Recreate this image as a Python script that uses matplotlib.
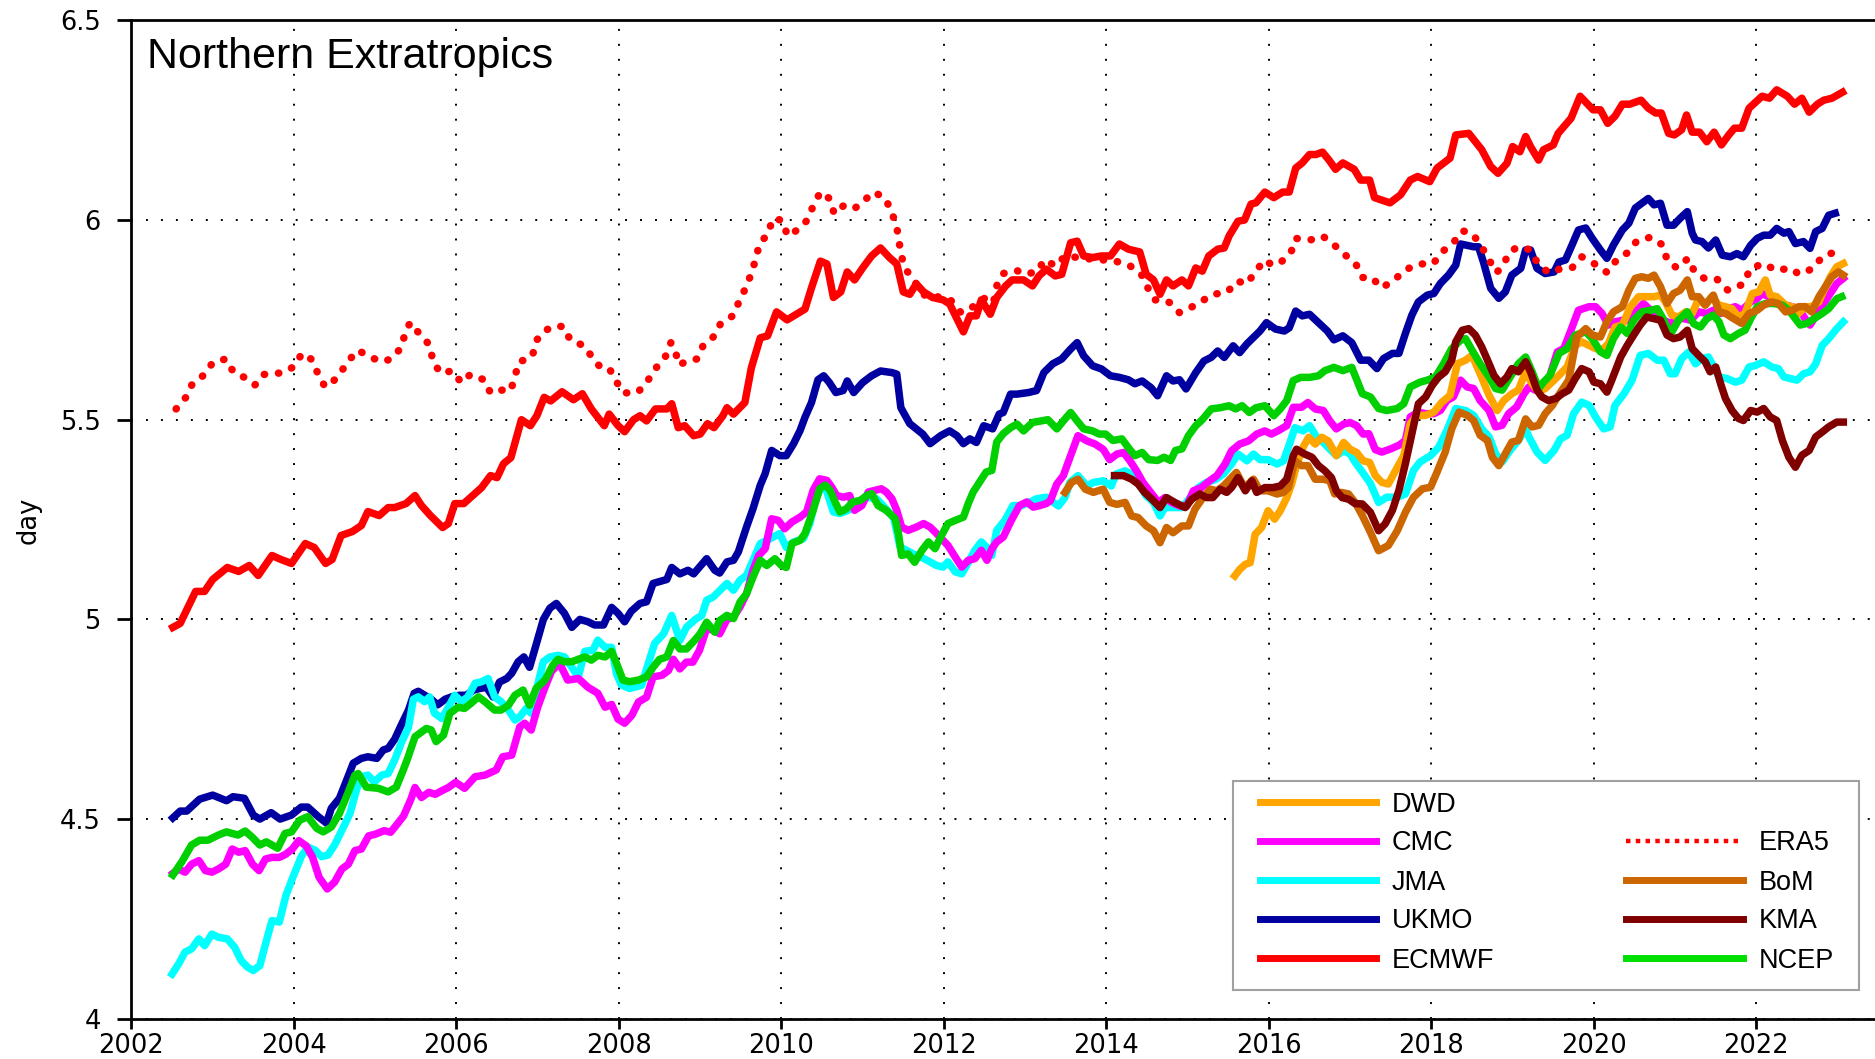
import matplotlib
matplotlib.use("Agg")
import matplotlib.pyplot as plt
from matplotlib.lines import Line2D
from matplotlib.patches import Rectangle

# values (year, days)
ecmwf_t = [2002.51, 2002.6, 2002.79, 2002.9, 2003.0, 2003.18, 2003.32, 2003.45, 2003.56, 2003.73, 2003.84, 2003.97,
           2004.14, 2004.25, 2004.39, 2004.47, 2004.58, 2004.72, 2004.83, 2004.91, 2005.05, 2005.16, 2005.24, 2005.38,
           2005.49, 2005.57, 2005.68, 2005.83, 2005.9, 2005.98, 2006.09, 2006.2, 2006.31, 2006.42, 2006.5, 2006.58,
           2006.67, 2006.8, 2006.91, 2006.99, 2007.08, 2007.16, 2007.3, 2007.44, 2007.55, 2007.66, 2007.82, 2007.88,
           2007.99, 2008.07, 2008.18, 2008.26, 2008.34, 2008.45, 2008.59, 2008.65, 2008.73, 2008.81, 2008.92, 2009.0,
           2009.09, 2009.17, 2009.28, 2009.33, 2009.41, 2009.55, 2009.63, 2009.74, 2009.83, 2009.94, 2010.07, 2010.29,
           2010.37, 2010.48, 2010.56, 2010.64, 2010.73, 2010.81, 2010.9, 2011.0, 2011.11, 2011.22, 2011.33, 2011.42,
           2011.5, 2011.58, 2011.66, 2011.75, 2011.86, 2011.99, 2012.07, 2012.24, 2012.32, 2012.4, 2012.46, 2012.57,
           2012.65, 2012.76, 2012.84, 2012.98, 2013.09, 2013.17, 2013.26, 2013.37, 2013.45, 2013.56, 2013.64, 2013.72,
           2013.83, 2013.94, 2014.05, 2014.16, 2014.27, 2014.41, 2014.49, 2014.58, 2014.66, 2014.74, 2014.82, 2014.93,
           2015.01, 2015.1, 2015.18, 2015.26, 2015.37, 2015.45, 2015.51, 2015.62, 2015.7, 2015.78, 2015.84, 2015.95,
           2016.06, 2016.17, 2016.25, 2016.33, 2016.41, 2016.5, 2016.58, 2016.66, 2016.74, 2016.82, 2016.91, 2017.05,
           2017.13, 2017.24, 2017.3, 2017.49, 2017.62, 2017.74, 2017.83, 2017.98, 2018.07, 2018.23, 2018.3, 2018.46,
           2018.62, 2018.73, 2018.82, 2018.93, 2019.0, 2019.09, 2019.16, 2019.22, 2019.32, 2019.38, 2019.5, 2019.56,
           2019.72, 2019.83, 2019.99, 2020.08, 2020.17, 2020.26, 2020.35, 2020.44, 2020.58, 2020.67, 2020.76, 2020.83,
           2020.92, 2020.99, 2021.08, 2021.14, 2021.21, 2021.3, 2021.39, 2021.48, 2021.57, 2021.66, 2021.73, 2021.82,
           2021.91, 2021.98, 2022.07, 2022.16, 2022.25, 2022.38, 2022.47, 2022.56, 2022.65, 2022.75, 2022.83, 2022.93,
           2023.06]
ecmwf_v = [4.98, 4.99, 5.07, 5.07, 5.10, 5.13, 5.12, 5.135, 5.11, 5.16, 5.15, 5.14,
           5.19, 5.18, 5.14, 5.15, 5.21, 5.22, 5.235, 5.27, 5.26, 5.28, 5.28, 5.29,
           5.31, 5.285, 5.26, 5.23, 5.24, 5.29, 5.29, 5.31, 5.33, 5.36, 5.355, 5.39,
           5.405, 5.50, 5.485, 5.51, 5.556, 5.547, 5.57, 5.55, 5.565, 5.527, 5.485, 5.514,
           5.485, 5.47, 5.50, 5.51, 5.497, 5.527, 5.527, 5.54, 5.48, 5.485, 5.46, 5.464,
           5.49, 5.48, 5.51, 5.53, 5.514, 5.543, 5.63, 5.705, 5.71, 5.77, 5.75, 5.777,
           5.83, 5.897, 5.89, 5.806, 5.82, 5.87, 5.85, 5.88, 5.91, 5.93, 5.906, 5.89,
           5.82, 5.814, 5.84, 5.82, 5.806, 5.80, 5.79, 5.72, 5.76, 5.76, 5.80, 5.764,
           5.806, 5.835, 5.85, 5.85, 5.835, 5.86, 5.877, 5.86, 5.864, 5.943, 5.947, 5.91,
           5.906, 5.91, 5.91, 5.94, 5.927, 5.92, 5.864, 5.85, 5.814, 5.85, 5.835, 5.85,
           5.835, 5.88, 5.872, 5.91, 5.927, 5.93, 5.96, 5.997, 6.0, 6.04, 6.043, 6.07,
           6.056, 6.07, 6.07, 6.13, 6.143, 6.164, 6.164, 6.17, 6.15, 6.127, 6.143, 6.127,
           6.1, 6.1, 6.056, 6.043, 6.063, 6.10, 6.109, 6.096, 6.13, 6.155, 6.213, 6.217,
           6.176, 6.134, 6.117, 6.142, 6.184, 6.171, 6.209, 6.184, 6.15, 6.176, 6.188, 6.217,
           6.255, 6.31, 6.276, 6.276, 6.242, 6.26, 6.29, 6.29, 6.30, 6.28, 6.268, 6.268,
           6.217, 6.213, 6.226, 6.263, 6.22, 6.22, 6.196, 6.22, 6.188, 6.213, 6.23, 6.23,
           6.28, 6.293, 6.31, 6.305, 6.326, 6.31, 6.29, 6.305, 6.27, 6.29, 6.30, 6.305,
           6.32]

era5_t = [2002.55, 2002.67, 2002.75, 2002.9, 2003.0, 2003.16, 2003.26, 2003.39, 2003.52, 2003.62, 2003.74, 2003.86,
          2004.0, 2004.1, 2004.21, 2004.29, 2004.38, 2004.46, 2004.58, 2004.69, 2004.79, 2004.94, 2005.1, 2005.2,
          2005.32, 2005.37, 2005.43, 2005.55, 2005.67, 2005.71, 2005.8, 2005.95, 2006.06, 2006.17, 2006.34, 2006.42,
          2006.58, 2006.67, 2006.72, 2006.78, 2006.88, 2006.94, 2006.99, 2007.1, 2007.21, 2007.32, 2007.4, 2007.57,
          2007.68, 2007.79, 2007.89, 2007.96, 2008.06, 2008.23, 2008.35, 2008.45, 2008.57, 2008.64, 2008.69, 2008.74,
          2008.85, 2008.96, 2009.04, 2009.16, 2009.25, 2009.4, 2009.48, 2009.56, 2009.63, 2009.68, 2009.73, 2009.84,
          2009.89, 2010.0, 2010.08, 2010.21, 2010.32, 2010.39, 2010.48, 2010.59, 2010.65, 2010.76, 2010.89, 2011.0,
          2011.14, 2011.28, 2011.36, 2011.42, 2011.45, 2011.48, 2011.54, 2011.65, 2011.77, 2011.9, 2012.01, 2012.08,
          2012.21, 2012.43, 2012.51, 2012.59, 2012.65, 2012.73, 2012.89, 2013.01, 2013.16, 2013.23, 2013.38, 2013.49,
          2013.7, 2013.9, 2014.06, 2014.28, 2014.43, 2014.51, 2014.6, 2014.71, 2014.78, 2014.9, 2015.03, 2015.15,
          2015.3, 2015.48, 2015.61, 2015.73, 2015.83, 2015.95, 2016.04, 2016.14, 2016.27, 2016.33, 2016.51, 2016.66,
          2016.79, 2016.93, 2017.07, 2017.15, 2017.26, 2017.39, 2017.54, 2017.69, 2017.84, 2018.02, 2018.13, 2018.27,
          2018.38, 2018.5, 2018.61, 2018.71, 2018.8, 2018.88, 2018.96, 2019.07, 2019.21, 2019.3, 2019.44, 2019.55,
          2019.73, 2019.85, 2020.01, 2020.16, 2020.28, 2020.42, 2020.53, 2020.7, 2020.85, 2020.9, 2021.02, 2021.16,
          2021.24, 2021.38, 2021.52, 2021.65, 2021.77, 2021.85, 2021.92, 2022.09, 2022.25, 2022.41, 2022.53, 2022.7,
          2022.81, 2022.94]
era5_v = [5.527, 5.556, 5.59, 5.613, 5.643, 5.652, 5.618, 5.606, 5.587, 5.613, 5.616, 5.617,
          5.633, 5.666, 5.652, 5.618, 5.583, 5.59, 5.62, 5.652, 5.674, 5.656, 5.645, 5.653,
          5.68, 5.718, 5.743, 5.714, 5.687, 5.648, 5.617, 5.622, 5.593, 5.613, 5.60, 5.567,
          5.575, 5.573, 5.61, 5.647, 5.65, 5.664, 5.70, 5.724, 5.735, 5.733, 5.70, 5.685,
          5.654, 5.627, 5.625, 5.598, 5.567, 5.568, 5.596, 5.628, 5.657, 5.693, 5.674, 5.637,
          5.648, 5.652, 5.687, 5.707, 5.74, 5.76, 5.796, 5.83, 5.866, 5.90, 5.94, 5.967,
          6.003, 6.0, 5.96, 5.977, 6.0, 6.035, 6.07, 6.054, 6.016, 6.035, 6.027, 6.046,
          6.07, 6.054, 6.018, 5.982, 5.943, 5.907, 5.874, 5.843, 5.81, 5.81, 5.80, 5.80,
          5.768, 5.79, 5.806, 5.772, 5.835, 5.866, 5.874, 5.864, 5.872, 5.90, 5.885, 5.91,
          5.905, 5.90, 5.90, 5.887, 5.864, 5.83, 5.80, 5.80, 5.793, 5.768, 5.78, 5.793,
          5.814, 5.818, 5.847, 5.84, 5.87, 5.90, 5.887, 5.893, 5.918, 5.954, 5.95, 5.96,
          5.94, 5.914, 5.89, 5.856, 5.857, 5.83, 5.85, 5.876, 5.89, 5.89, 5.92, 5.943,
          5.973, 5.967, 5.936, 5.90, 5.868, 5.885, 5.92, 5.933, 5.926, 5.895, 5.868, 5.876,
          5.88, 5.908, 5.89, 5.869, 5.90, 5.919, 5.948, 5.957, 5.937, 5.90, 5.88, 5.904,
          5.87, 5.851, 5.851, 5.824, 5.834, 5.84, 5.878, 5.891, 5.873, 5.88, 5.864, 5.879,
          5.908, 5.918]

ukmo_t = [2002.51, 2002.6, 2002.68, 2002.84, 2003.0, 2003.17, 2003.25, 2003.39, 2003.5, 2003.58, 2003.72, 2003.83,
          2003.97, 2004.09, 2004.17, 2004.3, 2004.4, 2004.46, 2004.56, 2004.65, 2004.73, 2004.83, 2004.91, 2005.02,
          2005.1, 2005.16, 2005.24, 2005.32, 2005.41, 2005.48, 2005.53, 2005.61, 2005.69, 2005.77, 2005.86, 2005.94,
          2006.04, 2006.12, 2006.21, 2006.29, 2006.37, 2006.45, 2006.53, 2006.62, 2006.68, 2006.76, 2006.83, 2006.9,
          2006.98, 2007.07, 2007.15, 2007.23, 2007.33, 2007.42, 2007.52, 2007.62, 2007.7, 2007.81, 2007.91, 2007.99,
          2008.07, 2008.15, 2008.26, 2008.34, 2008.42, 2008.59, 2008.65, 2008.75, 2008.85, 2008.92, 2009.08, 2009.18,
          2009.24, 2009.33, 2009.41, 2009.47, 2009.57, 2009.65, 2009.74, 2009.8, 2009.88, 2009.98, 2010.06, 2010.15,
          2010.23, 2010.29, 2010.37, 2010.45, 2010.52, 2010.59, 2010.67, 2010.76, 2010.81, 2010.89, 2011.0, 2011.11,
          2011.22, 2011.36, 2011.42, 2011.47, 2011.58, 2011.69, 2011.74, 2011.83, 2011.96, 2012.07, 2012.16, 2012.24,
          2012.32, 2012.4, 2012.49, 2012.6, 2012.68, 2012.73, 2012.82, 2012.9, 2013.04, 2013.14, 2013.23, 2013.34,
          2013.45, 2013.56, 2013.64, 2013.72, 2013.83, 2013.94, 2014.05, 2014.16, 2014.27, 2014.35, 2014.44, 2014.55,
          2014.63, 2014.74, 2014.82, 2014.9, 2014.98, 2015.1, 2015.2, 2015.29, 2015.37, 2015.45, 2015.56, 2015.64,
          2015.73, 2015.81, 2015.89, 2015.97, 2016.08, 2016.19, 2016.25, 2016.33, 2016.41, 2016.5, 2016.61, 2016.72,
          2016.8, 2016.91, 2017.02, 2017.13, 2017.23, 2017.33, 2017.41, 2017.52, 2017.6, 2017.68, 2017.76, 2017.84,
          2017.95, 2018.03, 2018.11, 2018.21, 2018.3, 2018.36, 2018.52, 2018.58, 2018.64, 2018.73, 2018.83, 2018.91,
          2018.99, 2019.1, 2019.16, 2019.22, 2019.3, 2019.4, 2019.51, 2019.57, 2019.65, 2019.73, 2019.81, 2019.9,
          2019.98, 2020.08, 2020.16, 2020.24, 2020.35, 2020.43, 2020.51, 2020.59, 2020.67, 2020.74, 2020.82, 2020.9,
          2020.98, 2021.06, 2021.15, 2021.21, 2021.25, 2021.33, 2021.41, 2021.5, 2021.58, 2021.68, 2021.76, 2021.84,
          2021.93, 2022.01, 2022.09, 2022.17, 2022.25, 2022.34, 2022.4, 2022.48, 2022.58, 2022.66, 2022.73, 2022.81,
          2022.89, 2022.97]
ukmo_v = [4.503, 4.52, 4.52, 4.55, 4.56, 4.546, 4.556, 4.552, 4.51, 4.50, 4.516, 4.50,
          4.51, 4.53, 4.53, 4.506, 4.49, 4.527, 4.552, 4.598, 4.64, 4.652, 4.656, 4.652,
          4.673, 4.677, 4.70, 4.735, 4.773, 4.815, 4.82, 4.81, 4.80, 4.786, 4.80, 4.806,
          4.81, 4.81, 4.823, 4.827, 4.83, 4.806, 4.843, 4.852, 4.865, 4.894, 4.906, 4.88,
          4.936, 5.0, 5.028, 5.04, 5.015, 4.98, 5.0, 4.994, 4.986, 4.986, 5.03, 5.015,
          4.994, 5.02, 5.04, 5.044, 5.09, 5.10, 5.13, 5.114, 5.123, 5.114, 5.152, 5.123,
          5.116, 5.144, 5.148, 5.169, 5.231, 5.277, 5.336, 5.365, 5.423, 5.41, 5.41, 5.44,
          5.473, 5.506, 5.543, 5.60, 5.61, 5.593, 5.568, 5.573, 5.597, 5.568, 5.593, 5.61,
          5.622, 5.618, 5.614, 5.53, 5.49, 5.472, 5.464, 5.44, 5.46, 5.472, 5.46, 5.44,
          5.452, 5.443, 5.485, 5.477, 5.514, 5.518, 5.564, 5.564, 5.568, 5.573, 5.618, 5.64,
          5.652, 5.677, 5.693, 5.66, 5.635, 5.627, 5.61, 5.606, 5.60, 5.59, 5.597, 5.58,
          5.56, 5.61, 5.597, 5.60, 5.577, 5.618, 5.647, 5.656, 5.672, 5.656, 5.685, 5.668,
          5.69, 5.706, 5.722, 5.743, 5.727, 5.722, 5.73, 5.772, 5.76, 5.764, 5.743, 5.722,
          5.70, 5.71, 5.693, 5.649, 5.649, 5.628, 5.653, 5.666, 5.666, 5.716, 5.762, 5.795,
          5.812, 5.816, 5.841, 5.862, 5.887, 5.94, 5.933, 5.933, 5.895, 5.829, 5.804, 5.82,
          5.862, 5.879, 5.925, 5.925, 5.879, 5.866, 5.87, 5.895, 5.90, 5.937, 5.975, 5.98,
          5.954, 5.925, 5.904, 5.937, 5.975, 5.992, 6.03, 6.042, 6.054, 6.038, 6.042, 5.987,
          5.987, 6.004, 6.021, 5.967, 5.95, 5.946, 5.93, 5.95, 5.912, 5.908, 5.916, 5.908,
          5.937, 5.954, 5.962, 5.962, 5.979, 5.967, 5.971, 5.941, 5.946, 5.929, 5.971, 5.979,
          6.012, 6.017]

ncep_t = [2002.51, 2002.62, 2002.74, 2002.84, 2002.94, 2003.07, 2003.17, 2003.31, 2003.4, 2003.49, 2003.58, 2003.66,
          2003.8, 2003.89, 2003.97, 2004.07, 2004.17, 2004.28, 2004.36, 2004.46, 2004.56, 2004.67, 2004.75, 2004.79,
          2004.89, 2005.04, 2005.16, 2005.26, 2005.34, 2005.4, 2005.49, 2005.63, 2005.69, 2005.75, 2005.84, 2005.92,
          2006.02, 2006.1, 2006.18, 2006.27, 2006.35, 2006.47, 2006.55, 2006.64, 2006.72, 2006.82, 2006.9, 2006.98,
          2007.09, 2007.19, 2007.25, 2007.33, 2007.42, 2007.5, 2007.58, 2007.66, 2007.74, 2007.83, 2007.91, 2007.97,
          2008.05, 2008.13, 2008.24, 2008.34, 2008.42, 2008.5, 2008.59, 2008.67, 2008.75, 2008.83, 2008.93, 2009.0,
          2009.08, 2009.18, 2009.24, 2009.33, 2009.41, 2009.49, 2009.57, 2009.65, 2009.74, 2009.82, 2009.92, 2010.0,
          2010.06, 2010.13, 2010.23, 2010.29, 2010.39, 2010.47, 2010.54, 2010.6, 2010.66, 2010.72, 2010.8, 2010.88,
          2010.97, 2011.05, 2011.11, 2011.19, 2011.29, 2011.4, 2011.44, 2011.48, 2011.56, 2011.64, 2011.73, 2011.81,
          2011.89, 2011.97, 2012.05, 2012.14, 2012.24, 2012.3, 2012.36, 2012.44, 2012.52, 2012.59, 2012.65, 2012.73,
          2012.82, 2012.9, 2012.98, 2013.09, 2013.2, 2013.28, 2013.39, 2013.47, 2013.56, 2013.64, 2013.72, 2013.83,
          2013.91, 2013.99, 2014.08, 2014.19, 2014.27, 2014.35, 2014.44, 2014.52, 2014.63, 2014.71, 2014.79, 2014.85,
          2014.93, 2015.01, 2015.1, 2015.18, 2015.29, 2015.4, 2015.51, 2015.59, 2015.67, 2015.76, 2015.84, 2015.95,
          2016.06, 2016.14, 2016.22, 2016.3, 2016.39, 2016.5, 2016.61, 2016.69, 2016.8, 2016.91, 2017.02, 2017.15,
          2017.25, 2017.35, 2017.45, 2017.58, 2017.66, 2017.74, 2017.86, 2017.95, 2018.05, 2018.15, 2018.25, 2018.36,
          2018.42, 2018.5, 2018.6, 2018.71, 2018.79, 2018.87, 2018.97, 2019.07, 2019.16, 2019.24, 2019.32, 2019.38,
          2019.46, 2019.57, 2019.67, 2019.77, 2019.9, 2019.98, 2020.08, 2020.16, 2020.24, 2020.33, 2020.41, 2020.49,
          2020.59, 2020.7, 2020.78, 2020.84, 2020.9, 2020.96, 2021.04, 2021.15, 2021.23, 2021.31, 2021.39, 2021.47,
          2021.54, 2021.6, 2021.68, 2021.78, 2021.86, 2021.93, 2022.01, 2022.11, 2022.21, 2022.32, 2022.4, 2022.48,
          2022.54, 2022.62, 2022.71, 2022.81, 2022.89, 2022.99, 2023.05]
ncep_v = [4.36, 4.393, 4.435, 4.447, 4.447, 4.46, 4.468, 4.46, 4.47, 4.454, 4.435, 4.443,
          4.427, 4.464, 4.468, 4.497, 4.506, 4.477, 4.468, 4.48, 4.514, 4.568, 4.61, 4.614,
          4.58, 4.577, 4.568, 4.58, 4.62, 4.652, 4.706, 4.727, 4.723, 4.694, 4.71, 4.765,
          4.78, 4.777, 4.79, 4.806, 4.794, 4.773, 4.773, 4.785, 4.81, 4.823, 4.785, 4.827,
          4.848, 4.886, 4.90, 4.894, 4.894, 4.90, 4.906, 4.898, 4.91, 4.906, 4.92, 4.89,
          4.848, 4.844, 4.848, 4.856, 4.88, 4.90, 4.906, 4.947, 4.926, 4.926, 4.947, 4.964,
          4.993, 4.968, 4.997, 5.01, 5.002, 5.043, 5.064, 5.106, 5.148, 5.135, 5.152, 5.135,
          5.13, 5.19, 5.198, 5.215, 5.273, 5.327, 5.336, 5.323, 5.294, 5.269, 5.277, 5.294,
          5.298, 5.31, 5.315, 5.285, 5.273, 5.252, 5.215, 5.16, 5.164, 5.143, 5.173, 5.194,
          5.177, 5.21, 5.24, 5.248, 5.256, 5.29, 5.319, 5.344, 5.369, 5.373, 5.444, 5.465,
          5.48, 5.489, 5.472, 5.493, 5.497, 5.50, 5.477, 5.497, 5.518, 5.497, 5.477, 5.472,
          5.464, 5.464, 5.448, 5.452, 5.43, 5.41, 5.418, 5.40, 5.398, 5.406, 5.398, 5.423,
          5.427, 5.46, 5.485, 5.50, 5.527, 5.53, 5.535, 5.527, 5.535, 5.518, 5.53, 5.535,
          5.51, 5.527, 5.548, 5.598, 5.606, 5.606, 5.61, 5.623, 5.631, 5.623, 5.631, 5.565,
          5.557, 5.528, 5.523, 5.528, 5.54, 5.582, 5.594, 5.599, 5.607, 5.64, 5.678, 5.699,
          5.703, 5.674, 5.64, 5.607, 5.578, 5.574, 5.607, 5.64, 5.657, 5.62, 5.578, 5.594,
          5.611, 5.666, 5.678, 5.712, 5.72, 5.703, 5.67, 5.661, 5.703, 5.732, 5.716, 5.749,
          5.77, 5.774, 5.778, 5.757, 5.732, 5.72, 5.749, 5.77, 5.74, 5.732, 5.753, 5.762,
          5.745, 5.712, 5.703, 5.716, 5.724, 5.753, 5.783, 5.791, 5.791, 5.787, 5.774, 5.753,
          5.737, 5.741, 5.753, 5.766, 5.778, 5.803, 5.808]

jma_t = [2002.5, 2002.58, 2002.66, 2002.74, 2002.83, 2002.9, 2002.99, 2003.07, 2003.18, 2003.27, 2003.35, 2003.43,
         2003.5, 2003.58, 2003.65, 2003.73, 2003.82, 2003.9, 2003.99, 2004.09, 2004.17, 2004.26, 2004.34, 2004.42,
         2004.5, 2004.61, 2004.69, 2004.77, 2004.83, 2004.91, 2004.99, 2005.08, 2005.16, 2005.24, 2005.32, 2005.41,
         2005.47, 2005.53, 2005.61, 2005.67, 2005.73, 2005.82, 2005.9, 2005.98, 2006.06, 2006.14, 2006.23, 2006.31,
         2006.39, 2006.47, 2006.55, 2006.64, 2006.72, 2006.78, 2006.86, 2006.92, 2006.98, 2007.07, 2007.15, 2007.25,
         2007.33, 2007.42, 2007.5, 2007.58, 2007.68, 2007.74, 2007.83, 2007.91, 2007.97, 2008.03, 2008.13, 2008.28,
         2008.36, 2008.44, 2008.55, 2008.65, 2008.71, 2008.75, 2008.83, 2008.94, 2009.02, 2009.08, 2009.16, 2009.33,
         2009.41, 2009.49, 2009.57, 2009.74, 2009.86, 2009.98, 2010.06, 2010.15, 2010.27, 2010.35, 2010.41, 2010.49,
         2010.56, 2010.64, 2010.72, 2010.82, 2010.92, 2011.05, 2011.17, 2011.25, 2011.38, 2011.46, 2011.54, 2011.62,
         2011.72, 2011.83, 2011.91, 2011.99, 2012.05, 2012.14, 2012.22, 2012.28, 2012.38, 2012.46, 2012.53, 2012.59,
         2012.65, 2012.75, 2012.85, 2012.96, 2013.06, 2013.14, 2013.26, 2013.41, 2013.49, 2013.55, 2013.65, 2013.76,
         2013.84, 2013.96, 2014.06, 2014.12, 2014.23, 2014.31, 2014.39, 2014.49, 2014.58, 2014.66, 2014.72, 2014.82,
         2014.93, 2015.03, 2015.13, 2015.23, 2015.34, 2015.44, 2015.54, 2015.62, 2015.73, 2015.81, 2015.89, 2015.99,
         2016.1, 2016.18, 2016.26, 2016.32, 2016.42, 2016.5, 2016.59, 2016.67, 2016.75, 2016.83, 2016.92, 2017.0,
         2017.06, 2017.15, 2017.25, 2017.35, 2017.45, 2017.58, 2017.68, 2017.78, 2017.86, 2017.99, 2018.09, 2018.19,
         2018.3, 2018.42, 2018.52, 2018.62, 2018.71, 2018.79, 2018.87, 2018.97, 2019.07, 2019.16, 2019.2, 2019.3,
         2019.4, 2019.51, 2019.59, 2019.67, 2019.75, 2019.85, 2019.94, 2020.02, 2020.12, 2020.2, 2020.26, 2020.37,
         2020.47, 2020.57, 2020.67, 2020.78, 2020.86, 2020.94, 2021.0, 2021.08, 2021.17, 2021.25, 2021.33, 2021.41,
         2021.54, 2021.64, 2021.74, 2021.82, 2021.91, 2021.99, 2022.09, 2022.19, 2022.27, 2022.34, 2022.42, 2022.5,
         2022.58, 2022.66, 2022.73, 2022.81, 2022.89, 2022.99, 2023.07]
jma_v = [4.112, 4.137, 4.167, 4.175, 4.20, 4.183, 4.212, 4.204, 4.20, 4.179, 4.146, 4.129,
         4.121, 4.133, 4.187, 4.246, 4.242, 4.308, 4.356, 4.406, 4.43, 4.422, 4.406, 4.41,
         4.435, 4.48, 4.514, 4.573, 4.606, 4.61, 4.593, 4.61, 4.614, 4.648, 4.69, 4.73,
         4.80, 4.806, 4.794, 4.806, 4.765, 4.752, 4.78, 4.81, 4.794, 4.806, 4.84, 4.844,
         4.852, 4.806, 4.794, 4.773, 4.748, 4.756, 4.777, 4.765, 4.82, 4.894, 4.906, 4.91,
         4.906, 4.88, 4.856, 4.92, 4.923, 4.948, 4.93, 4.93, 4.864, 4.836, 4.827, 4.835,
         4.889, 4.94, 4.964, 5.01, 4.972, 4.947, 4.98, 5.0, 5.01, 5.048, 5.056, 5.09,
         5.073, 5.098, 5.11, 5.19, 5.202, 5.215, 5.18, 5.194, 5.202, 5.24, 5.29, 5.336,
         5.319, 5.269, 5.265, 5.273, 5.285, 5.306, 5.302, 5.285, 5.256, 5.181, 5.173, 5.164,
         5.156, 5.144, 5.135, 5.131, 5.144, 5.119, 5.114, 5.135, 5.173, 5.194, 5.18, 5.16,
         5.223, 5.248, 5.285, 5.285, 5.294, 5.302, 5.306, 5.284, 5.305, 5.343, 5.36, 5.334,
         5.343, 5.347, 5.334, 5.364, 5.372, 5.364, 5.343, 5.309, 5.293, 5.259, 5.28, 5.28,
         5.28, 5.305, 5.33, 5.343, 5.35, 5.364, 5.389, 5.414, 5.397, 5.414, 5.40, 5.40,
         5.389, 5.397, 5.443, 5.48, 5.472, 5.485, 5.456, 5.443, 5.426, 5.41, 5.422, 5.414,
         5.394, 5.369, 5.34, 5.293, 5.306, 5.306, 5.314, 5.373, 5.394, 5.41, 5.431, 5.473,
         5.528, 5.523, 5.511, 5.477, 5.457, 5.415, 5.394, 5.423, 5.448, 5.477, 5.457, 5.419,
         5.398, 5.423, 5.452, 5.461, 5.515, 5.544, 5.536, 5.507, 5.477, 5.482, 5.536, 5.565,
         5.599, 5.661, 5.666, 5.649, 5.649, 5.615, 5.615, 5.653, 5.67, 5.64, 5.653, 5.657,
         5.607, 5.603, 5.594, 5.599, 5.632, 5.636, 5.645, 5.632, 5.628, 5.607, 5.603, 5.599,
         5.615, 5.62, 5.64, 5.686, 5.703, 5.728, 5.745]

cmc_t = [2002.51, 2002.58, 2002.66, 2002.74, 2002.83, 2002.91, 2002.99, 2003.07, 2003.16, 2003.24, 2003.32, 2003.4,
         2003.49, 2003.57, 2003.65, 2003.73, 2003.82, 2003.9, 2003.98, 2004.06, 2004.15, 2004.23, 2004.31, 2004.41,
         2004.5, 2004.59, 2004.67, 2004.75, 2004.83, 2004.92, 2005.0, 2005.11, 2005.19, 2005.27, 2005.35, 2005.44,
         2005.49, 2005.57, 2005.66, 2005.74, 2005.82, 2005.9, 2005.99, 2006.1, 2006.23, 2006.35, 2006.49, 2006.57,
         2006.68, 2006.78, 2006.84, 2006.92, 2007.0, 2007.09, 2007.17, 2007.27, 2007.37, 2007.5, 2007.62, 2007.74,
         2007.83, 2007.91, 2007.99, 2008.07, 2008.16, 2008.24, 2008.34, 2008.42, 2008.53, 2008.61, 2008.67, 2008.75,
         2008.83, 2008.91, 2008.99, 2009.08, 2009.18, 2009.24, 2009.33, 2009.41, 2009.49, 2009.57, 2009.65, 2009.72,
         2009.8, 2009.88, 2009.96, 2010.04, 2010.13, 2010.23, 2010.31, 2010.39, 2010.47, 2010.56, 2010.62, 2010.68,
         2010.76, 2010.84, 2010.9, 2010.99, 2011.07, 2011.15, 2011.23, 2011.29, 2011.36, 2011.42, 2011.48, 2011.56,
         2011.66, 2011.75, 2011.83, 2011.91, 2011.99, 2012.05, 2012.14, 2012.22, 2012.3, 2012.38, 2012.46, 2012.53,
         2012.59, 2012.65, 2012.73, 2012.83, 2012.93, 2013.02, 2013.1, 2013.18, 2013.26, 2013.31, 2013.39, 2013.47,
         2013.55, 2013.65, 2013.76, 2013.86, 2013.96, 2014.04, 2014.13, 2014.21, 2014.29, 2014.37, 2014.45, 2014.56,
         2014.64, 2014.72, 2014.8, 2014.9, 2014.99, 2015.07, 2015.17, 2015.27, 2015.36, 2015.46, 2015.54, 2015.64,
         2015.75, 2015.85, 2015.95, 2016.03, 2016.11, 2016.22, 2016.3, 2016.4, 2016.48, 2016.57, 2016.67, 2016.75,
         2016.83, 2016.92, 2017.0, 2017.08, 2017.16, 2017.23, 2017.31, 2017.39, 2017.5, 2017.6, 2017.68, 2017.74,
         2017.84, 2017.93, 2018.03, 2018.11, 2018.19, 2018.27, 2018.36, 2018.44, 2018.52, 2018.6, 2018.71, 2018.79,
         2018.87, 2018.95, 2019.05, 2019.14, 2019.2, 2019.28, 2019.36, 2019.46, 2019.55, 2019.63, 2019.71, 2019.81,
         2019.94, 2020.02, 2020.1, 2020.18, 2020.26, 2020.35, 2020.45, 2020.53, 2020.61, 2020.7, 2020.78, 2020.86,
         2020.94, 2021.02, 2021.11, 2021.19, 2021.29, 2021.39, 2021.47, 2021.56, 2021.66, 2021.74, 2021.82, 2021.93,
         2022.01, 2022.07, 2022.15, 2022.27, 2022.36, 2022.44, 2022.52, 2022.6, 2022.66, 2022.75, 2022.83, 2022.91,
         2022.99, 2023.07]
cmc_v = [4.364, 4.375, 4.367, 4.387, 4.396, 4.371, 4.367, 4.375, 4.387, 4.425, 4.417, 4.421,
         4.387, 4.371, 4.40, 4.404, 4.404, 4.412, 4.425, 4.446, 4.433, 4.404, 4.354, 4.325,
         4.342, 4.375, 4.387, 4.421, 4.425, 4.458, 4.462, 4.471, 4.467, 4.487, 4.508, 4.55,
         4.579, 4.554, 4.567, 4.562, 4.571, 4.579, 4.592, 4.577, 4.606, 4.61, 4.623, 4.656,
         4.66, 4.731, 4.74, 4.723, 4.78, 4.83, 4.87, 4.89, 4.848, 4.852, 4.83, 4.815,
         4.78, 4.787, 4.75, 4.74, 4.76, 4.793, 4.805, 4.856, 4.86, 4.872, 4.90, 4.876,
         4.893, 4.893, 4.922, 4.977, 4.972, 4.964, 5.0, 5.006, 5.031, 5.064, 5.123, 5.16,
         5.177, 5.252, 5.248, 5.227, 5.244, 5.256, 5.269, 5.323, 5.352, 5.348, 5.331, 5.31,
         5.306, 5.31, 5.273, 5.285, 5.319, 5.323, 5.327, 5.319, 5.302, 5.273, 5.231, 5.223,
         5.231, 5.24, 5.231, 5.215, 5.198, 5.185, 5.156, 5.131, 5.148, 5.152, 5.173, 5.148,
         5.177, 5.194, 5.206, 5.248, 5.285, 5.294, 5.281, 5.285, 5.29, 5.297, 5.339, 5.36,
         5.405, 5.46, 5.447, 5.439, 5.426, 5.40, 5.414, 5.418, 5.397, 5.372, 5.343, 5.314,
         5.293, 5.305, 5.293, 5.284, 5.284, 5.322, 5.33, 5.347, 5.36, 5.389, 5.422, 5.439,
         5.447, 5.464, 5.472, 5.464, 5.472, 5.485, 5.531, 5.531, 5.543, 5.527, 5.523, 5.497,
         5.477, 5.489, 5.493, 5.485, 5.464, 5.465, 5.425, 5.419, 5.427, 5.436, 5.448, 5.507,
         5.519, 5.515, 5.515, 5.523, 5.548, 5.557, 5.599, 5.582, 5.578, 5.548, 5.523, 5.482,
         5.486, 5.515, 5.532, 5.565, 5.582, 5.574, 5.578, 5.611, 5.67, 5.678, 5.72, 5.774,
         5.783, 5.783, 5.766, 5.737, 5.745, 5.749, 5.749, 5.774, 5.791, 5.774, 5.766, 5.749,
         5.741, 5.753, 5.753, 5.749, 5.77, 5.766, 5.774, 5.766, 5.778, 5.783, 5.774, 5.795,
         5.803, 5.816, 5.808, 5.795, 5.787, 5.783, 5.778, 5.753, 5.737, 5.766, 5.791, 5.816,
         5.841, 5.854]

dwd_t = [2015.58, 2015.64, 2015.71, 2015.77, 2015.83, 2015.91, 2015.99, 2016.07, 2016.14, 2016.22, 2016.28, 2016.34,
         2016.42, 2016.49, 2016.57, 2016.65, 2016.73, 2016.83, 2016.92, 2017.0, 2017.08, 2017.16, 2017.24, 2017.31,
         2017.39, 2017.47, 2017.56, 2017.66, 2017.74, 2017.82, 2017.93, 2018.03, 2018.13, 2018.23, 2018.32, 2018.42,
         2018.5, 2018.6, 2018.71, 2018.81, 2018.89, 2018.99, 2019.07, 2019.16, 2019.24, 2019.32, 2019.4, 2019.51,
         2019.59, 2019.67, 2019.77, 2019.85, 2019.94, 2020.02, 2020.1, 2020.18, 2020.26, 2020.35, 2020.45, 2020.55,
         2020.63, 2020.74, 2020.82, 2020.88, 2020.96, 2021.04, 2021.13, 2021.21, 2021.29, 2021.37, 2021.45, 2021.54,
         2021.62, 2021.7, 2021.78, 2021.86, 2021.95, 2022.03, 2022.11, 2022.17, 2022.25, 2022.36, 2022.44, 2022.52,
         2022.6, 2022.68, 2022.77, 2022.83, 2022.91, 2022.99, 2023.07]
dwd_v = [5.109, 5.125, 5.138, 5.142, 5.213, 5.23, 5.272, 5.251, 5.272, 5.305, 5.339, 5.385,
         5.431, 5.456, 5.439, 5.456, 5.447, 5.41, 5.443, 5.426, 5.418, 5.397, 5.393, 5.36,
         5.343, 5.339, 5.373, 5.41, 5.49, 5.51, 5.511, 5.519, 5.544, 5.561, 5.64, 5.649,
         5.661, 5.615, 5.561, 5.523, 5.548, 5.565, 5.574, 5.62, 5.59, 5.569, 5.578, 5.599,
         5.615, 5.632, 5.686, 5.695, 5.686, 5.678, 5.674, 5.691, 5.732, 5.737, 5.783, 5.808,
         5.808, 5.808, 5.812, 5.795, 5.762, 5.757, 5.77, 5.766, 5.803, 5.787, 5.808, 5.787,
         5.783, 5.778, 5.757, 5.766, 5.816, 5.82, 5.85, 5.812, 5.808, 5.787, 5.783, 5.766,
         5.783, 5.783, 5.795, 5.824, 5.858, 5.883, 5.891]

bom_t = [2013.49, 2013.57, 2013.65, 2013.74, 2013.84, 2013.96, 2014.04, 2014.13, 2014.23, 2014.31, 2014.39, 2014.49,
         2014.58, 2014.66, 2014.74, 2014.82, 2014.93, 2015.01, 2015.09, 2015.19, 2015.28, 2015.36, 2015.44, 2015.52,
         2015.6, 2015.7, 2015.81, 2015.89, 2015.99, 2016.1, 2016.18, 2016.24, 2016.32, 2016.4, 2016.48, 2016.57,
         2016.67, 2016.75, 2016.81, 2016.89, 2016.98, 2017.06, 2017.15, 2017.25, 2017.35, 2017.47, 2017.58, 2017.68,
         2017.78, 2017.89, 2017.99, 2018.07, 2018.17, 2018.25, 2018.34, 2018.44, 2018.52, 2018.6, 2018.69, 2018.75,
         2018.83, 2018.91, 2018.99, 2019.07, 2019.16, 2019.24, 2019.32, 2019.4, 2019.49, 2019.59, 2019.69, 2019.79,
         2019.9, 2019.98, 2020.08, 2020.16, 2020.24, 2020.35, 2020.43, 2020.51, 2020.59, 2020.67, 2020.74, 2020.82,
         2020.9, 2020.98, 2021.06, 2021.15, 2021.21, 2021.29, 2021.37, 2021.47, 2021.54, 2021.62, 2021.72, 2021.82,
         2021.91, 2022.01, 2022.09, 2022.19, 2022.27, 2022.36, 2022.44, 2022.52, 2022.6, 2022.68, 2022.77, 2022.85,
         2022.93, 2023.01, 2023.07]
bom_v = [5.318, 5.343, 5.351, 5.326, 5.318, 5.326, 5.293, 5.288, 5.293, 5.259, 5.255, 5.234,
         5.222, 5.192, 5.23, 5.217, 5.234, 5.234, 5.276, 5.305, 5.326, 5.322, 5.334, 5.351,
         5.368, 5.33, 5.351, 5.322, 5.322, 5.314, 5.318, 5.33, 5.397, 5.385, 5.385, 5.351,
         5.351, 5.347, 5.314, 5.318, 5.314, 5.293, 5.26, 5.218, 5.172, 5.185, 5.222, 5.268,
         5.306, 5.327, 5.331, 5.369, 5.419, 5.477, 5.519, 5.511, 5.498, 5.461, 5.448, 5.406,
         5.385, 5.415, 5.444, 5.448, 5.502, 5.482, 5.486, 5.515, 5.536, 5.569, 5.599, 5.707,
         5.728, 5.712, 5.707, 5.745, 5.77, 5.783, 5.824, 5.854, 5.858, 5.854, 5.862, 5.833,
         5.791, 5.816, 5.824, 5.85, 5.808, 5.808, 5.787, 5.812, 5.77, 5.766, 5.753, 5.741,
         5.766, 5.774, 5.787, 5.795, 5.791, 5.77, 5.774, 5.783, 5.783, 5.77, 5.808, 5.833,
         5.858, 5.87, 5.862]

kma_t = [2014.1, 2014.21, 2014.31, 2014.39, 2014.47, 2014.56, 2014.66, 2014.74, 2014.84, 2014.97, 2015.05, 2015.15,
         2015.23, 2015.31, 2015.4, 2015.48, 2015.54, 2015.62, 2015.71, 2015.79, 2015.85, 2015.95, 2016.05, 2016.14,
         2016.22, 2016.3, 2016.34, 2016.44, 2016.53, 2016.61, 2016.69, 2016.77, 2016.83, 2016.9, 2016.98, 2017.06,
         2017.15, 2017.25, 2017.35, 2017.43, 2017.52, 2017.6, 2017.68, 2017.76, 2017.84, 2017.93, 2018.01, 2018.09,
         2018.17, 2018.25, 2018.3, 2018.38, 2018.46, 2018.54, 2018.62, 2018.71, 2018.77, 2018.85, 2018.93, 2018.99,
         2019.07, 2019.16, 2019.22, 2019.3, 2019.36, 2019.44, 2019.53, 2019.61, 2019.69, 2019.77, 2019.85, 2019.94,
         2020.0, 2020.08, 2020.16, 2020.22, 2020.33, 2020.41, 2020.49, 2020.57, 2020.65, 2020.74, 2020.82, 2020.9,
         2020.98, 2021.06, 2021.15, 2021.21, 2021.29, 2021.37, 2021.43, 2021.5, 2021.56, 2021.62, 2021.7, 2021.78,
         2021.84, 2021.93, 2022.01, 2022.09, 2022.17, 2022.25, 2022.32, 2022.4, 2022.48, 2022.56, 2022.65, 2022.73,
         2022.81, 2022.89, 2022.99, 2023.07]
kma_v = [5.36, 5.36, 5.351, 5.339, 5.318, 5.301, 5.28, 5.305, 5.293, 5.28, 5.301, 5.314,
         5.305, 5.305, 5.326, 5.318, 5.33, 5.355, 5.322, 5.347, 5.318, 5.33, 5.33, 5.334,
         5.351, 5.41, 5.426, 5.414, 5.406, 5.385, 5.372, 5.355, 5.322, 5.305, 5.301, 5.29,
         5.289, 5.268, 5.222, 5.239, 5.273, 5.323, 5.39, 5.465, 5.54, 5.557, 5.586, 5.607,
         5.62, 5.649, 5.695, 5.724, 5.728, 5.712, 5.682, 5.64, 5.611, 5.59, 5.607, 5.628,
         5.62, 5.645, 5.62, 5.574, 5.557, 5.548, 5.553, 5.565, 5.574, 5.603, 5.628, 5.62,
         5.594, 5.59, 5.569, 5.599, 5.657, 5.686, 5.712, 5.737, 5.757, 5.753, 5.749, 5.712,
         5.703, 5.707, 5.724, 5.678, 5.661, 5.645, 5.62, 5.632, 5.59, 5.553, 5.523, 5.503,
         5.498, 5.523, 5.519, 5.528, 5.507, 5.498, 5.448, 5.406, 5.381, 5.411, 5.423, 5.457,
         5.469, 5.482, 5.494, 5.494]

fig = plt.figure(figsize=(18.75, 10.59), dpi=100)
ax = fig.add_axes([0.0701, 0.038, 0.9299, 0.9428])

lw = 5.4
ax.plot(ukmo_t, ukmo_v, color="#0000a0", lw=lw, zorder=3)
ax.plot(jma_t, jma_v, color="#00ffff", lw=lw, zorder=3)
ax.plot(cmc_t, cmc_v, color="#ff00ff", lw=lw, zorder=3)
ax.plot(dwd_t, dwd_v, color="#ffa500", lw=lw, zorder=3)
ax.plot(ncep_t, ncep_v, color="#00d000", lw=lw, zorder=3)
ax.plot(bom_t, bom_v, color="#cc6600", lw=lw, zorder=3)
ax.plot(kma_t, kma_v, color="#800000", lw=lw, zorder=3)
ax.plot(ecmwf_t, ecmwf_v, color="#ff0000", lw=lw, zorder=3)
ax.plot(era5_t, era5_v, color="#ff0000", lw=lw, linestyle=(0, (0.05, 1.85)),
        dash_capstyle="round", zorder=3)

ax.set_xlim(2002, 2023.46)
ax.set_ylim(4, 6.5)
ax.set_xticks(range(2002, 2024, 2))
ax.set_yticks([4, 4.5, 5, 5.5, 6, 6.5])
ax.set_yticklabels(["4", "4.5", "5", "5.5", "6", "6.5"])
ax.grid(True, color="black", linestyle=(0, (1, 6.7)), linewidth=1.4)
ax.set_axisbelow(True)

for side in ["left", "bottom", "top"]:
    ax.spines[side].set_linewidth(2)
ax.spines["right"].set_visible(False)
ax.tick_params(axis="y", direction="out", length=10, width=2, pad=12, labelsize=18.5)
ax.tick_params(axis="x", direction="out", length=7, width=2, pad=3.5, labelsize=18.5)
ax.tick_params(top=False, right=False)

fig.text(147 / 1875, 1 - 68 / 1059, "Northern Extratropics", family="Liberation Sans",
         size=31, va="baseline")
fig.text(28.7 / 1875, 1 - 520 / 1059, "day", rotation=90, ha="center", va="center", size=18.5)

# legend: gray box plus two columns (first slot of the 2nd column empty)
box = Rectangle((1233 / 1875, 1 - 990 / 1059), (1859 - 1233) / 1875, (990 - 781) / 1059,
                transform=fig.transFigure, facecolor="white", edgecolor="#a0a0a0", lw=1.5, zorder=5)
ax.add_patch(box)

names = ["DWD", "CMC", "JMA", "UKMO", "ECMWF", "", "ERA5", "BoM", "KMA", "NCEP"]
colors = ["#ffa500", "#ff00ff", "#00ffff", "#0000a0", "#ff0000", "none", "#ff0000", "#cc6600", "#800000", "#00e000"]
handles = []
for n, c in zip(names, colors):
    if n == "ERA5":
        handles.append(Line2D([], [], color=c, lw=3.2, linestyle=(0, (1, 1.2))))
    else:
        handles.append(Line2D([], [], color=c, lw=5))
leg = ax.legend(handles, names, ncol=2, loc="upper left",
                bbox_to_anchor=(1259.5 / 1875, 1 - 791.5 / 1059), bbox_transform=fig.transFigure,
                prop={"family": "Liberation Sans", "size": 19.5}, frameon=False, borderpad=0,
                borderaxespad=0, handlelength=4.3, handletextpad=0.59, columnspacing=4.87,
                labelspacing=0.48)
leg.set_zorder(6)

fig.savefig("out.png", dpi=100)
